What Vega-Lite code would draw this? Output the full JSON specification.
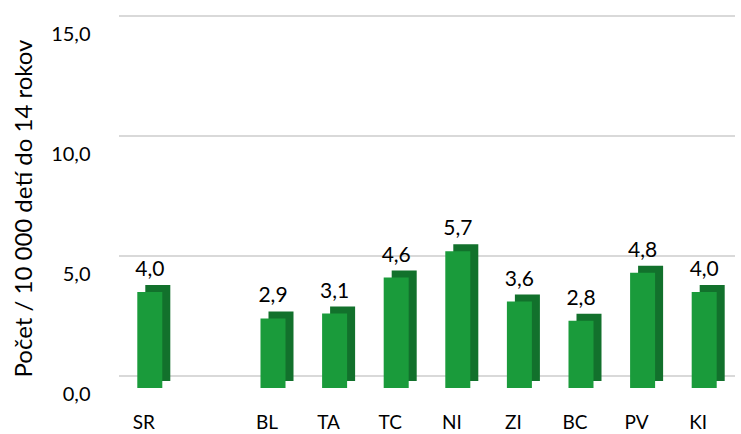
{
  "$schema": "https://vega.github.io/schema/vega-lite/v6.json",
  "width": 616,
  "height": 360,
  "autosize": {"type": "none"},
  "padding": {"left": 119, "top": 28, "right": 6, "bottom": 46},
  "background": "white",
  "config": {
    "locale": {"number": {"decimal": ",", "thousands": " ", "grouping": [3], "currency": ["", " €"]}},
    "font": "Lato",
    "view": {"stroke": null}
  },
  "datasets": {
    "bars": [
      {"kraj": "SR", "hodnota": 4.0},
      {"kraj": "BL", "hodnota": 2.9},
      {"kraj": "TA", "hodnota": 3.1},
      {"kraj": "TC", "hodnota": 4.6},
      {"kraj": "NI", "hodnota": 5.7},
      {"kraj": "ZI", "hodnota": 3.6},
      {"kraj": "BC", "hodnota": 2.8},
      {"kraj": "PV", "hodnota": 4.8},
      {"kraj": "KI", "hodnota": 4.0}
    ],
    "grid": [{"v": 0}, {"v": 5}, {"v": 10}, {"v": 15}]
  },
  "layer": [
    {
      "data": {"name": "grid"},
      "mark": {"type": "rule", "color": "#d9d9d9", "strokeWidth": 2, "yOffset": -12},
      "encoding": {
        "y": {"field": "v", "type": "quantitative", "scale": {"domain": [0, 15], "nice": false},
          "axis": {"values": [0, 5, 10, 15], "format": ".1f", "grid": false, "domain": false, "ticks": false, "labelFontSize": 20, "labelColor": "#000000", "labelPadding": 29, "labelOffset": 6, "title": "Počet / 10 000 detí do 14 rokov", "titleFontSize": 24, "titleFontWeight": "normal", "titleColor": "#000000", "titlePadding": 14, "titleFont": "Lato"}}
      }
    },
    {
      "data": {"name": "bars"},
      "encoding": {
        "x": {
          "field": "kraj", "type": "nominal", "sort": null,
          "scale": {"domain": ["SR", " ", "BL", "TA", "TC", "NI", "ZI", "BC", "PV", "KI"], "paddingInner": 0.594, "paddingOuter": 0.297},
          "axis": {"title": null, "domain": false, "ticks": false, "labelAngle": 0, "labelFontSize": 19, "labelColor": "#000000", "labelPadding": 25, "labelOffset": -6, "labelFont": "Lato"}
        },
        "y": {
          "field": "hodnota", "type": "quantitative",
          "scale": {"domain": [0, 15], "nice": false},
          "axis": {"values": [0, 5, 10, 15], "format": ".1f", "grid": false, "domain": false, "ticks": false, "labelFontSize": 20, "labelColor": "#000000", "labelPadding": 29, "labelOffset": 6, "title": "Počet / 10 000 detí do 14 rokov", "titleFontSize": 24, "titleFontWeight": "normal", "titleColor": "#000000", "titlePadding": 14, "titleFont": "Lato"}
        }
      },
      "layer": [
        {"mark": {"type": "bar", "color": "#12712c", "xOffset": 8, "yOffset": -7}},
        {"mark": {"type": "bar", "color": "#1a9b3b"}},
        {
          "mark": {"type": "text", "baseline": "bottom", "dy": -12, "fontSize": 21, "color": "#000000", "font": "Lato"},
          "encoding": {"text": {"field": "hodnota", "type": "quantitative", "format": ".1f"}}
        }
      ]
    }
  ]
}
